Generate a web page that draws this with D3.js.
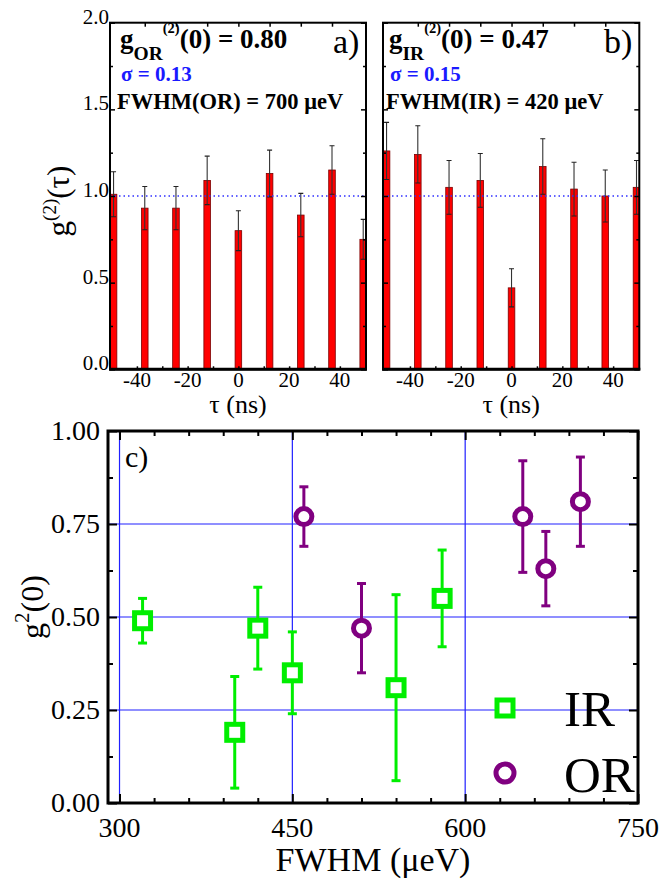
<!DOCTYPE html>
<meta charset="utf-8">
<style>
body { margin: 0; background: #fff; }
svg { font-family: "Liberation Serif", "Times New Roman", serif; }
.tick line { stroke: #000; stroke-width: 1.5px; }
.domain { display: none; }
</style>
<body>
<svg width="663" height="883"></svg>
<script src="https://d3js.org/d3.v7.min.js"></script>
<script>
// panels a) and b): g2(tau) histograms
var tau = [-49.2, -36.9, -24.6, -12.3, 0, 12.3, 24.6, 36.9, 49.2];
var gOR = [1.01, 0.93, 0.93, 1.09, 0.80, 1.13, 0.89, 1.15, 0.75];
var errOR = [0.13, 0.125, 0.125, 0.14, 0.115, 0.135, 0.125, 0.14, 0.115];
var gIR = [1.26, 1.24, 1.05, 1.09, 0.47, 1.17, 1.04, 1.00, 1.05];
var errIR = [0.165, 0.165, 0.155, 0.155, 0.11, 0.16, 0.155, 0.15, 0.155];
var tauTicks = [-40, -20, 0, 20, 40];
var g2Ticks = [0, 0.5, 1.0, 1.5, 2.0];

// panel c): g2(0) vs FWHM
var irFwhm = [320, 400, 420, 450, 540, 580];
var irG = [0.49, 0.19, 0.47, 0.35, 0.31, 0.55];
var irLo = [0.43, 0.04, 0.36, 0.24, 0.06, 0.42];
var irHi = [0.55, 0.34, 0.58, 0.46, 0.56, 0.68];
var orFwhm = [460, 510, 650, 670, 700];
var orG = [0.77, 0.47, 0.77, 0.63, 0.81];
var orLo = [0.69, 0.35, 0.62, 0.53, 0.69];
var orHi = [0.85, 0.59, 0.92, 0.73, 0.93];
var fwhmTicks = [300, 450, 600, 750];
var g0Ticks = [0, 0.25, 0.5, 0.75, 1.0];

var svg = d3.select("svg");

function barPanel(box, vals, errs, id, showY) {
  var x = d3.scaleLinear().domain([-50.6, 50.3]).range([box.left, box.right]);
  var y = d3.scaleLinear().domain([0, 2]).range([box.bottom, box.top]);
  var g = svg.append("g");

  svg.append("clipPath").attr("id", id)
    .append("rect").attr("x", box.left).attr("y", box.top)
    .attr("width", box.right - box.left).attr("height", box.bottom - box.top);

  var data = tau.map(function(t, i) { return {t: t, v: vals[i], e: errs[i]}; });
  var inner = g.append("g").attr("clip-path", "url(#" + id + ")");

  inner.selectAll(".bar").data(data).enter().append("rect")
    .attr("x", function(d) { return x(d.t) - 3.3; })
    .attr("width", 6.6)
    .attr("y", function(d) { return y(d.v); })
    .attr("height", function(d) { return y(0) - y(d.v); })
    .attr("fill", "#ff0000").attr("stroke", "#7a0000").attr("stroke-width", 0.8);

  inner.selectAll(".err").data(data).enter().append("line")
    .attr("x1", function(d) { return x(d.t); }).attr("x2", function(d) { return x(d.t); })
    .attr("y1", function(d) { return y(d.v - d.e); })
    .attr("y2", function(d) { return y(d.v + d.e); })
    .attr("stroke", "#333").attr("stroke-width", 1.1);
  ["lo", "hi"].forEach(function(k) {
    inner.selectAll(".cap" + k).data(data).enter().append("line")
      .attr("x1", function(d) { return x(d.t) - 2.5; }).attr("x2", function(d) { return x(d.t) + 2.5; })
      .attr("y1", function(d) { return y(k == "lo" ? d.v - d.e : d.v + d.e); })
      .attr("y2", function(d) { return y(k == "lo" ? d.v - d.e : d.v + d.e); })
      .attr("stroke", "#222").attr("stroke-width", 1.1);
  });

  g.append("line")
    .attr("x1", box.left).attr("x2", box.right).attr("y1", y(1)).attr("y2", y(1))
    .attr("stroke", "#3030ff").attr("stroke-width", 1.5).attr("stroke-dasharray", "1.5,3");

  // ticks
  g.append("g").attr("transform", "translate(" + box.left + ",0)")
    .call(d3.axisLeft(y).tickValues(g2Ticks).tickSize(-5).tickFormat(""));
  g.append("g").attr("transform", "translate(" + box.left + ",0)")
    .call(d3.axisLeft(y).tickValues([0.25, 0.75, 1.25, 1.75]).tickSize(-3).tickFormat(""));
  g.append("g").attr("transform", "translate(" + box.right + ",0)")
    .call(d3.axisRight(y).tickValues(g2Ticks).tickSize(-5).tickFormat(""));
  g.append("g").attr("transform", "translate(" + box.right + ",0)")
    .call(d3.axisRight(y).tickValues([0.25, 0.75, 1.25, 1.75]).tickSize(-3).tickFormat(""));
  g.append("g").attr("transform", "translate(0," + box.bottom + ")")
    .call(d3.axisBottom(x).tickValues(d3.range(-40, 41, 10)).tickSize(-3).tickFormat(""));
  g.append("g").attr("transform", "translate(0," + box.top + ")")
    .call(d3.axisTop(x).tickValues(tau.slice(1, -1)).tickSize(-4).tickFormat(""));

  g.append("rect")
    .attr("x", box.left).attr("y", box.top)
    .attr("width", box.right - box.left).attr("height", box.bottom - box.top)
    .attr("fill", "none").attr("stroke", "#000").attr("stroke-width", 2);
  g.append("line").attr("x1", box.left - 1).attr("x2", box.right + 1)
    .attr("y1", box.bottom).attr("y2", box.bottom)
    .attr("stroke", "#000").attr("stroke-width", 3);

  g.selectAll(".xl").data(tauTicks).enter().append("text")
    .attr("x", function(d) { return x(d); }).attr("y", box.bottom + 18)
    .attr("text-anchor", "middle").attr("font-size", 21)
    .text(function(d) { return d < 0 ? "-" + (-d) : d; });

  if (showY) {
    g.selectAll(".yl").data(g2Ticks).enter().append("text")
      .attr("x", box.left - 1).attr("y", function(d) { return y(d) + 1; })
      .attr("text-anchor", "end").attr("font-size", 21)
      .text(function(d) { return d.toFixed(1); });
  }

  g.append("text").attr("x", (box.left + box.right) / 2).attr("y", box.bottom + 44)
    .attr("text-anchor", "middle").attr("font-size", 26).text("\u03c4 (ns)");
  return g;
}

var pa = {left: 110, right: 366, top: 22.7, bottom: 369.3};
var pb = {left: 383, right: 639.3, top: 22.7, bottom: 369.3};
var ga = barPanel(pa, gOR, errOR, "clipa", true);
var gb = barPanel(pb, gIR, errIR, "clipb", false);

function annot(g, x0, sub, val, sigma, fwhm, letter, letterX) {
  var t = g.append("text").attr("x", x0).attr("y", 48)
    .attr("font-weight", "bold").attr("font-size", 27);
  t.append("tspan").text("g");
  t.append("tspan").attr("font-size", 19.5).attr("dy", 12).text(sub);
  t.append("tspan").attr("font-size", 14.5).attr("dy", -27).text("(2)");
  t.append("tspan").attr("dy", 15).text("(0) = " + val);
  g.append("text").attr("x", x0 + 1).attr("y", 81)
    .attr("font-weight", "bold").attr("font-size", 21).attr("fill", "#1a1aff")
    .text("\u03c3 = " + sigma);
  g.append("text").attr("x", x0 - 3).attr("y", 109)
    .attr("font-weight", "bold").attr("font-size", 22.5)
    .text("FWHM(" + sub + ") = " + fwhm + " \u03bceV");
  g.append("text").attr("x", letterX).attr("y", 53).attr("font-size", 34).text(letter);
}
annot(ga, 120, "OR", "0.80", "0.13", 700, "a)", 333);
annot(gb, 389, "IR", "0.47", "0.15", 420, "b)", 604);

// y title panel a
var ta = svg.append("text").attr("transform", "translate(69,201) rotate(-90)")
  .attr("text-anchor", "middle").attr("font-size", 31);
ta.append("tspan").text("g");
ta.append("tspan").attr("font-size", 19).attr("dy", -13).text("(2)");
ta.append("tspan").attr("dy", 13).text("(\u03c4)");

// panel c
var pc = {left: 108, right: 638, top: 431, bottom: 803};
var x = d3.scaleLinear().domain([290, 750]).range([pc.left, pc.right]);
var y = d3.scaleLinear().domain([0, 1]).range([pc.bottom, pc.top]);
var gc = svg.append("g");

gc.selectAll(".vg").data([300, 450, 600]).enter().append("line")
  .attr("x1", function(d) { return x(d); }).attr("x2", function(d) { return x(d); })
  .attr("y1", pc.top).attr("y2", pc.bottom)
  .attr("stroke", "#2020ff").attr("stroke-width", 1.2);
gc.selectAll(".hg").data([0.25, 0.5, 0.75]).enter().append("line")
  .attr("x1", pc.left).attr("x2", pc.right)
  .attr("y1", function(d) { return y(d); }).attr("y2", function(d) { return y(d); })
  .attr("stroke", "#2020ff").attr("stroke-width", 1.2);

gc.append("g").attr("transform", "translate(0," + pc.bottom + ")")
  .call(d3.axisBottom(x).tickValues(fwhmTicks).tickSize(-9).tickFormat(""));
gc.append("g").attr("transform", "translate(0," + pc.bottom + ")")
  .call(d3.axisBottom(x).tickValues([330, 360, 390, 420, 480, 510, 540, 570, 630, 660, 690, 720]).tickSize(-5).tickFormat(""));
gc.append("g").attr("transform", "translate(0," + pc.top + ")")
  .call(d3.axisTop(x).tickValues(fwhmTicks).tickSize(-9).tickFormat(""));
gc.append("g").attr("transform", "translate(0," + pc.top + ")")
  .call(d3.axisTop(x).tickValues([330, 360, 390, 420, 480, 510, 540, 570, 630, 660, 690, 720]).tickSize(-5).tickFormat(""));
gc.append("g").attr("transform", "translate(" + pc.left + ",0)")
  .call(d3.axisLeft(y).tickValues(g0Ticks).tickSize(-9).tickFormat(""));
gc.append("g").attr("transform", "translate(" + pc.left + ",0)")
  .call(d3.axisLeft(y).tickValues([0.125, 0.375, 0.625, 0.875]).tickSize(-5).tickFormat(""));
gc.append("g").attr("transform", "translate(" + pc.right + ",0)")
  .call(d3.axisRight(y).tickValues(g0Ticks).tickSize(-9).tickFormat(""));
gc.append("g").attr("transform", "translate(" + pc.right + ",0)")
  .call(d3.axisRight(y).tickValues([0.125, 0.375, 0.625, 0.875]).tickSize(-5).tickFormat(""));
gc.selectAll(".tick line").style("stroke-width", "2px");

gc.append("rect").attr("x", pc.left).attr("y", pc.top)
  .attr("width", pc.right - pc.left).attr("height", pc.bottom - pc.top)
  .attr("fill", "none").attr("stroke", "#000").attr("stroke-width", 3);

gc.selectAll(".xl").data(fwhmTicks).enter().append("text")
  .attr("x", function(d) { return x(d); }).attr("y", 837)
  .attr("text-anchor", "middle").attr("font-size", 28).text(function(d) { return d; });
gc.selectAll(".yl").data(g0Ticks).enter().append("text")
  .attr("x", 100).attr("y", function(d) { return y(d) + 9; })
  .attr("text-anchor", "end").attr("font-size", 28).text(function(d) { return d.toFixed(2); });

gc.append("text").attr("x", 373).attr("y", 871).attr("text-anchor", "middle")
  .attr("font-size", 34).text("FWHM (\u03bceV)");
var tc = gc.append("text").attr("transform", "translate(43,607) rotate(-90)")
  .attr("text-anchor", "middle").attr("font-size", 32);
tc.append("tspan").text("g");
tc.append("tspan").attr("font-size", 21).attr("dy", -14).text("2");
tc.append("tspan").attr("dy", 14).text("(0)");
gc.append("text").attr("x", 125).attr("y", 467).attr("font-size", 30).text("c)");

function errBars(xs, ys, lo, hi, color) {
  var data = xs.map(function(v, i) { return {x: v, y: ys[i], lo: lo[i], hi: hi[i]}; });
  gc.selectAll(null).data(data).enter().append("line")
    .attr("x1", function(d) { return x(d.x); }).attr("x2", function(d) { return x(d.x); })
    .attr("y1", function(d) { return y(d.lo); }).attr("y2", function(d) { return y(d.hi); })
    .attr("stroke", color).attr("stroke-width", 3);
  ["lo", "hi"].forEach(function(k) {
    gc.selectAll(null).data(data).enter().append("line")
      .attr("x1", function(d) { return x(d.x) - 4.5; }).attr("x2", function(d) { return x(d.x) + 4.5; })
      .attr("y1", function(d) { return y(d[k]); }).attr("y2", function(d) { return y(d[k]); })
      .attr("stroke", color).attr("stroke-width", 3);
  });
  return data;
}

var green = "#00ee00", purple = "#800080";
var irData = errBars(irFwhm, irG, irLo, irHi, green);
var orData = errBars(orFwhm, orG, orLo, orHi, purple);

gc.selectAll(".sq").data(irData).enter().append("rect")
  .attr("x", function(d) { return x(d.x) - 8; }).attr("y", function(d) { return y(d.y) - 8; })
  .attr("width", 16).attr("height", 16)
  .attr("fill", "#fff").attr("stroke", green).attr("stroke-width", 5);
gc.selectAll(".ci").data(orData).enter().append("circle")
  .attr("cx", function(d) { return x(d.x); }).attr("cy", function(d) { return y(d.y); })
  .attr("r", 8).attr("fill", "#fff").attr("stroke", purple).attr("stroke-width", 5);

// legend
gc.append("rect").attr("x", 497).attr("y", 700).attr("width", 16).attr("height", 16)
  .attr("fill", "#fff").attr("stroke", green).attr("stroke-width", 5);
gc.append("text").attr("x", 564).attr("y", 726).attr("font-size", 51).text("IR");
gc.append("circle").attr("cx", 505).attr("cy", 773).attr("r", 9)
  .attr("fill", "#fff").attr("stroke", purple).attr("stroke-width", 5);
gc.append("text").attr("x", 564).attr("y", 792).attr("font-size", 51).text("OR");
</script>
</body>
</html>
